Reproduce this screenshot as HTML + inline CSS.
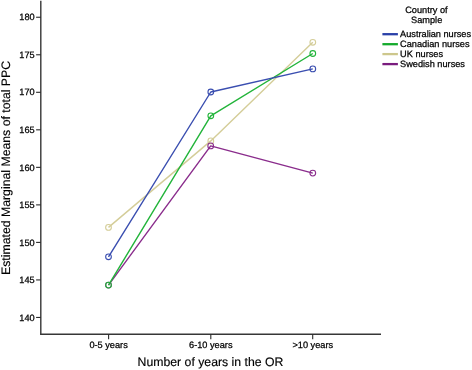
<!DOCTYPE html>
<html><head><meta charset="utf-8">
<style>
html,body{margin:0;padding:0;background:#fff;}
body{width:472px;height:370px;overflow:hidden;}
svg{display:block;will-change:transform;}
text{font-family:"Liberation Sans",sans-serif;fill:#000;stroke:#000;stroke-width:0.25px;text-rendering:geometricPrecision;}
.t{font-size:9.2px;}
.a{font-size:12.28px;stroke-width:0.15px;}
</style></head>
<body>
<svg width="472" height="370" viewBox="0 0 472 370">
<rect width="472" height="370" fill="#fff"/>
<!-- axes -->
<g stroke="#363636" stroke-width="1.4" fill="none">
<line x1="40.8" y1="0.7" x2="40.8" y2="334.85"/>
<line x1="40.15" y1="334.2" x2="381" y2="334.2"/>
</g>
<g stroke="#2a2a2a" stroke-width="1.1" fill="none">
<line x1="36.1" y1="17.25" x2="40.8" y2="17.25"/>
<line x1="36.1" y1="54.77" x2="40.8" y2="54.77"/>
<line x1="36.1" y1="92.30" x2="40.8" y2="92.30"/>
<line x1="36.1" y1="129.82" x2="40.8" y2="129.82"/>
<line x1="36.1" y1="167.35" x2="40.8" y2="167.35"/>
<line x1="36.1" y1="204.88" x2="40.8" y2="204.88"/>
<line x1="36.1" y1="242.40" x2="40.8" y2="242.40"/>
<line x1="36.1" y1="279.93" x2="40.8" y2="279.93"/>
<line x1="36.1" y1="317.45" x2="40.8" y2="317.45"/>
<line x1="108.6" y1="334.2" x2="108.6" y2="339.2"/>
<line x1="210.8" y1="334.2" x2="210.8" y2="339.2"/>
<line x1="312.7" y1="334.2" x2="312.7" y2="339.2"/>
</g>
<!-- y tick labels -->
<g class="t" text-anchor="end">
<text x="34.65" y="20.40">180</text>
<text x="34.65" y="57.92">175</text>
<text x="34.65" y="95.45">170</text>
<text x="34.65" y="132.97">165</text>
<text x="34.65" y="170.50">160</text>
<text x="34.65" y="208.03">155</text>
<text x="34.65" y="245.55">150</text>
<text x="34.65" y="283.07">145</text>
<text x="34.65" y="320.60">140</text>
</g>
<!-- x tick labels -->
<g class="t" text-anchor="middle">
<text x="108.6" y="347.7">0-5 years</text>
<text x="210.8" y="347.7">6-10 years</text>
<text x="312.8" y="347.7">&gt;10 years</text>
</g>
<!-- axis titles -->
<text class="a" text-anchor="middle" x="210.5" y="366">Number of years in the OR</text>
<text class="a" text-anchor="middle" transform="translate(10.3,167.95) rotate(-90)">Estimated Marginal Means of total PPC</text>
<!-- series -->
<g fill="none" stroke-width="1.4" stroke-linejoin="round">
<polyline stroke="#d4cd98" points="108.5,227.4 210.8,140.9 312.8,42.3"/>
<polyline stroke="#8a2c8c" points="108.5,285.1 210.7,145.9 312.8,173.1"/>
<polyline stroke="#22b43a" points="108.5,285.1 210.8,115.8 312.8,53.5"/>
<polyline stroke="#3a4eb0" points="108.5,256.8 210.8,92.0 312.8,68.9"/>
</g>
<g fill="none" stroke-width="1.1">
<g stroke="#d4cd98"><circle cx="108.5" cy="227.4" r="2.85"/><circle cx="210.8" cy="140.9" r="2.85"/><circle cx="312.8" cy="42.3" r="2.85"/></g>
<g stroke="#8a2c8c"><circle cx="108.5" cy="285.1" r="2.85"/><circle cx="210.7" cy="145.9" r="2.85"/><circle cx="312.8" cy="173.1" r="2.85"/></g>
<g stroke="#22b43a"><circle cx="108.5" cy="285.1" r="2.85"/><circle cx="210.8" cy="115.8" r="2.85"/><circle cx="312.8" cy="53.5" r="2.85"/></g>
<g stroke="#3a4eb0"><circle cx="108.5" cy="256.8" r="2.85"/><circle cx="210.8" cy="92.0" r="2.85"/><circle cx="312.8" cy="68.9" r="2.85"/></g>
</g>
<!-- legend -->
<g class="t" text-anchor="middle">
<text x="426.4" y="13.3">Country of</text>
<text x="426.7" y="22.8">Sample</text>
</g>
<g stroke-width="2.3" fill="none">
<line x1="382.4" y1="34.2" x2="397.9" y2="34.2" stroke="#2a40a8"/>
<line x1="382.4" y1="44.2" x2="397.9" y2="44.2" stroke="#14aa2c"/>
<line x1="382.4" y1="54.1" x2="397.9" y2="54.1" stroke="#cdc78c"/>
<line x1="382.4" y1="64.1" x2="397.9" y2="64.1" stroke="#7a1c7e"/>
</g>
<g class="t">
<text x="400.1" y="37.0">Australian nurses</text>
<text x="400.1" y="47.0">Canadian nurses</text>
<text x="400.1" y="56.9">UK nurses</text>
<text x="400.1" y="66.9">Swedish nurses</text>
</g>
</svg>
</body></html>
